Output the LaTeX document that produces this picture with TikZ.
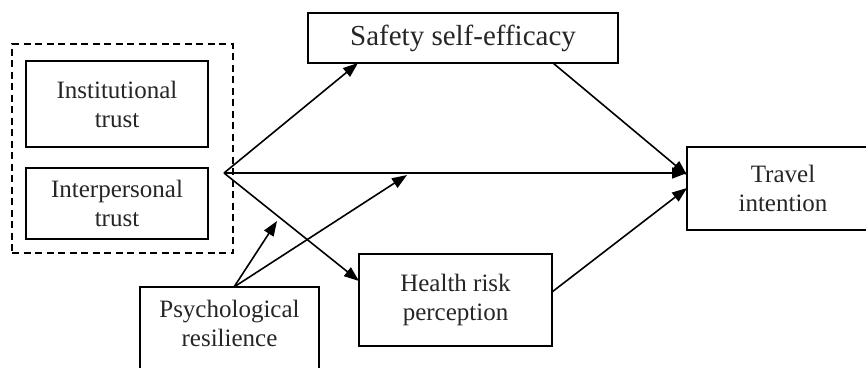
\documentclass[tikz,border=0pt]{standalone}
\usepackage{fontspec}
\setmainfont{Liberation Serif}
\usetikzlibrary{arrows.meta}
\tikzset{
  box/.style={draw, line width=1.7pt, rectangle, inner sep=0pt, align=center,
    font=\fontsize{25}{29}\selectfont, text=black!85},
  grp/.style={draw, dashed, dash pattern=on 7pt off 4.5pt, line width=1.4pt, rectangle, inner sep=0pt},
  arr/.style={line width=1.6pt, -{Triangle[length=15pt,width=11pt]}}
}
\begin{document}
\begin{tikzpicture}[x=1pt,y=-1pt]
\clip (0,0) rectangle (866,367);
\fill[white] (0,0) rectangle (866,367);
% group
\node[grp, minimum width=221pt, minimum height=209pt] (group) at (122.5,148.5) {};
\node[box, minimum width=182pt, minimum height=86pt] (inst) at (117,104) {Institutional\\trust};
\node[box, minimum width=182pt, minimum height=71pt] (inter) at (117,203.5) {Interpersonal\\trust};
\node[box, minimum width=310pt, minimum height=50pt, font=\fontsize{29}{33}\selectfont] (sse) at (463,38) {Safety self-efficacy};
\node[box, minimum width=192pt, minimum height=83pt] (ti) at (783,188.5) {Travel\\intention};
\node[box, minimum width=193pt, minimum height=92pt] (hrp) at (455.5,300) {Health risk\\perception};
\node[box, minimum width=179pt, minimum height=86pt] (pr) at (229.5,330) {\raisebox{7pt}[\height][\depth]{\parbox{170pt}{\centering Psychological\\resilience}}};
% points
\coordinate (fork) at (224,173);
\coordinate (sseIn) at (358,63);
\coordinate (sseOut) at (553,63);
\coordinate (tiA) at (687,175);
\coordinate (tiB) at (687,173);
\coordinate (tiC) at (687,188);
\coordinate (hrpIn) at (359,281);
\coordinate (hrpOut) at (552,292);
\coordinate (prTop) at (234,287);
\coordinate (modA) at (277,221);
\coordinate (modB) at (407,175);
% connectors
\draw[arr] (fork) -- (sseIn);
\draw[arr] (fork) -- (tiB);
\draw[arr] (fork) -- (hrpIn);
\draw[arr] (sseOut) -- (tiA);
\draw[arr] (hrpOut) -- (tiC);
\draw[arr] (prTop) -- (modA);
\draw[arr] (prTop) -- (modB);
\end{tikzpicture}
\end{document}
